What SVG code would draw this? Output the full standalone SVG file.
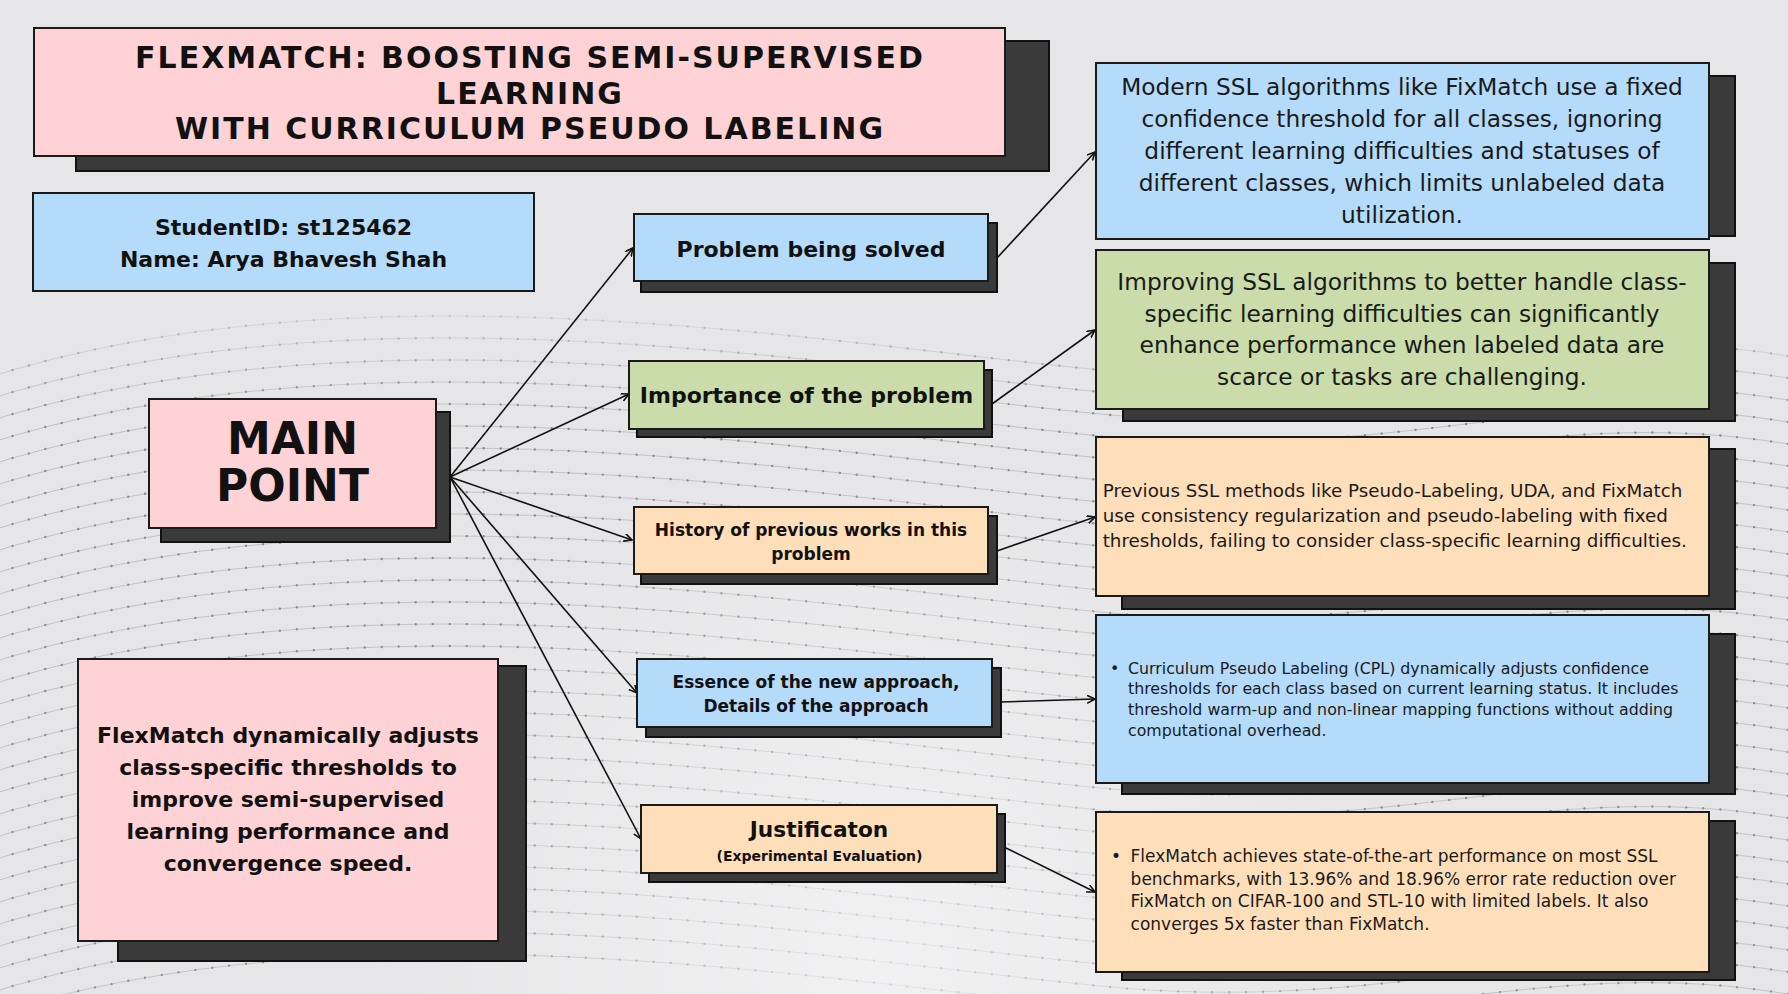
<svg xmlns="http://www.w3.org/2000/svg" width="1788" height="994" viewBox="0 0 1788 994">
<defs>
<style>
.box{stroke:#1a1a1a;stroke-width:2}
.shadow{fill:#3a3a3a;stroke:#111;stroke-width:2}
.pink{fill:#ffd3d5}
.blue{fill:#b4dbfa}
.green{fill:#c9dca9}
.peach{fill:#ffdfb9}
.b{font-family:"DejaVu Sans","Liberation Sans",sans-serif;font-weight:bold;fill:#111}
.r{font-family:"DejaVu Sans","Liberation Sans",sans-serif;fill:#1a1a1a}
.c{text-anchor:middle}
.t{font-size:30px;letter-spacing:2px}
.conn{stroke:#111;stroke-width:1.6;fill:none;marker-end:url(#arr)}
.md{fill:none;stroke:#858587;stroke-width:2.4;stroke-linecap:round;stroke-dasharray:0 17}
.ml{fill:none;stroke:#bfbfc2;stroke-width:1}
</style>
<marker id="arr" markerUnits="userSpaceOnUse" markerWidth="10" markerHeight="10" refX="8" refY="4" orient="auto"><path d="M0,0 L8,4 L0,8" fill="none" stroke="#111" stroke-width="1.6"/></marker>
<path id="wl" d="M-20,0 C 350,-120 800,-40 1100,-10 S 1550,-70 1810,-20"/>
<linearGradient id="fadeG" x1="0" y1="0" x2="0" y2="994" gradientUnits="userSpaceOnUse">
<stop offset="0.26" stop-color="#fff" stop-opacity="0"/>
<stop offset="0.42" stop-color="#fff" stop-opacity="0.95"/>
<stop offset="1" stop-color="#fff" stop-opacity="0.85"/>
</linearGradient>
<mask id="fadeM"><rect x="0" y="0" width="1788" height="994" fill="url(#fadeG)"/></mask>
<radialGradient id="glow" cx="880" cy="960" r="520" gradientUnits="userSpaceOnUse">
<stop offset="0" stop-color="#f6f6f7" stop-opacity="0.7"/>
<stop offset="1" stop-color="#f6f6f7" stop-opacity="0"/>
</radialGradient>
</defs>

<g id="background">
<rect x="0" y="0" width="1788" height="994" fill="#e6e6e8"/>
<g mask="url(#fadeM)">
<g class="ml">
<use href="#wl" y="380"/><use href="#wl" y="402"/><use href="#wl" y="424"/><use href="#wl" y="446"/><use href="#wl" y="468"/><use href="#wl" y="490"/><use href="#wl" y="512"/><use href="#wl" y="534"/><use href="#wl" y="556"/><use href="#wl" y="578"/><use href="#wl" y="600"/><use href="#wl" y="622"/><use href="#wl" y="644"/><use href="#wl" y="666"/><use href="#wl" y="688"/><use href="#wl" y="710"/><use href="#wl" y="732"/><use href="#wl" y="754"/><use href="#wl" y="776"/><use href="#wl" y="798"/><use href="#wl" y="820"/><use href="#wl" y="842"/><use href="#wl" y="864"/><use href="#wl" y="886"/><use href="#wl" y="908"/><use href="#wl" y="930"/><use href="#wl" y="952"/><use href="#wl" y="974"/><use href="#wl" y="996"/><use href="#wl" y="1018"/>
</g>
<g class="md">
<use href="#wl" y="380"/><use href="#wl" y="402"/><use href="#wl" y="424"/><use href="#wl" y="446"/><use href="#wl" y="468"/><use href="#wl" y="490"/><use href="#wl" y="512"/><use href="#wl" y="534"/><use href="#wl" y="556"/><use href="#wl" y="578"/><use href="#wl" y="600"/><use href="#wl" y="622"/><use href="#wl" y="644"/><use href="#wl" y="666"/><use href="#wl" y="688"/><use href="#wl" y="710"/><use href="#wl" y="732"/><use href="#wl" y="754"/><use href="#wl" y="776"/><use href="#wl" y="798"/><use href="#wl" y="820"/><use href="#wl" y="842"/><use href="#wl" y="864"/><use href="#wl" y="886"/><use href="#wl" y="908"/><use href="#wl" y="930"/><use href="#wl" y="952"/><use href="#wl" y="974"/><use href="#wl" y="996"/><use href="#wl" y="1018"/>
</g>
</g>
<rect x="0" y="400" width="1788" height="594" fill="url(#glow)"/>
</g>

<g id="connectors">
<line class="conn" x1="450" y1="477" x2="633" y2="248"/>
<line class="conn" x1="450" y1="477" x2="629" y2="394"/>
<line class="conn" x1="450" y1="477" x2="632" y2="540"/>
<line class="conn" x1="450" y1="477" x2="637" y2="693"/>
<line class="conn" x1="450" y1="477" x2="641" y2="839"/>
<line class="conn" x1="997" y1="258" x2="1095" y2="152"/>
<line class="conn" x1="992" y1="404" x2="1095" y2="330"/>
<line class="conn" x1="997" y1="551" x2="1095" y2="517"/>
<line class="conn" x1="1000" y1="702" x2="1095" y2="699"/>
<line class="conn" x1="1006" y1="848" x2="1095" y2="892"/>
</g>

<g id="title">
<rect class="shadow" x="76" y="41" width="973" height="130"/>
<rect class="box pink" x="34" y="28" width="971" height="128"/>
<text class="b c t" x="530" y="68">FLEXMATCH: BOOSTING SEMI-SUPERVISED</text>
<text class="b c t" x="530" y="103.5">LEARNING</text>
<text class="b c t" x="530" y="139">WITH CURRICULUM PSEUDO LABELING</text>
</g>

<g id="student">
<rect class="box blue" x="33" y="193" width="501" height="98"/>
<text class="b c" font-size="22" x="283.5" y="235">StudentID: st125462</text>
<text class="b c" font-size="22" x="283.5" y="266.7">Name: Arya Bhavesh Shah</text>
</g>

<g id="main-point">
<rect class="shadow" x="161" y="412" width="289" height="130"/>
<rect class="box pink" x="149" y="399" width="287" height="129"/>
<text class="b c" font-size="44" x="292.5" y="454">MAIN</text>
<text class="b c" font-size="44" x="292.5" y="500.7">POINT</text>
</g>

<g id="summary">
<rect class="shadow" x="118" y="666" width="408" height="295"/>
<rect class="box pink" x="78" y="659" width="420" height="282"/>
<text class="b c" font-size="22" x="288" y="742.7">FlexMatch dynamically adjusts</text>
<text class="b c" font-size="22" x="288" y="775">class-specific thresholds to</text>
<text class="b c" font-size="22" x="288" y="806.7">improve semi-supervised</text>
<text class="b c" font-size="22" x="288" y="839">learning performance and</text>
<text class="b c" font-size="22" x="288" y="871">convergence speed.</text>
</g>

<g id="problem">
<rect class="shadow" x="641" y="223" width="356" height="69"/>
<rect class="box blue" x="634" y="214" width="354" height="67"/>
<text class="b c" font-size="22" x="811" y="256.7">Problem being solved</text>
</g>

<g id="importance">
<rect class="shadow" x="637" y="370" width="355" height="67"/>
<rect class="box green" x="629" y="361" width="355" height="68"/>
<text class="b c" font-size="22" x="806.5" y="403.3">Importance of the problem</text>
</g>

<g id="history">
<rect class="shadow" x="641" y="516" width="356" height="68"/>
<rect class="box peach" x="634" y="507" width="354" height="67"/>
<text class="b c" font-size="17" x="811" y="535.7">History of previous works in this</text>
<text class="b c" font-size="17" x="811" y="560">problem</text>
</g>

<g id="essence">
<rect class="shadow" x="646" y="668" width="355" height="69"/>
<rect class="box blue" x="637" y="659" width="355" height="68"/>
<text class="b c" font-size="17" x="816" y="687.7">Essence of the new approach,</text>
<text class="b c" font-size="17" x="816" y="711.7">Details of the approach</text>
</g>

<g id="justification">
<rect class="shadow" x="649" y="814" width="356" height="68"/>
<rect class="box peach" x="641" y="805" width="356" height="68"/>
<text class="b c" font-size="21.7" x="819" y="836.7">Justificaton</text>
<text class="b c" font-size="14" x="819.5" y="860.7">(Experimental Evaluation)</text>
</g>

<g id="problem-detail">
<rect class="shadow" x="1123" y="76" width="612" height="160"/>
<rect class="box blue" x="1096" y="63" width="613" height="176"/>
<text class="r c" font-size="23.3" x="1402" y="95">Modern SSL algorithms like FixMatch use a fixed</text>
<text class="r c" font-size="23.3" x="1402" y="127.3">confidence threshold for all classes, ignoring</text>
<text class="r c" font-size="23.3" x="1402" y="159">different learning difficulties and statuses of</text>
<text class="r c" font-size="23.3" x="1402" y="191">different classes, which limits unlabeled data</text>
<text class="r c" font-size="23.3" x="1402" y="222.7">utilization.</text>
</g>

<g id="importance-detail">
<rect class="shadow" x="1123" y="263" width="612" height="158"/>
<rect class="box green" x="1096" y="250" width="613" height="159"/>
<text class="r c" font-size="23.3" x="1402" y="290">Improving SSL algorithms to better handle class-</text>
<text class="r c" font-size="23.3" x="1402" y="321.7">specific learning difficulties can significantly</text>
<text class="r c" font-size="23.3" x="1402" y="353.3">enhance performance when labeled data are</text>
<text class="r c" font-size="23.3" x="1402" y="385">scarce or tasks are challenging.</text>
</g>

<g id="history-detail">
<rect class="shadow" x="1122" y="449" width="613" height="160"/>
<rect class="box peach" x="1096" y="437" width="613" height="159"/>
<text class="r" font-size="18.3" x="1102.7" y="497.3">Previous SSL methods like Pseudo-Labeling, UDA, and FixMatch</text>
<text class="r" font-size="18.3" x="1102.7" y="522.3">use consistency regularization and pseudo-labeling with fixed</text>
<text class="r" font-size="18.3" x="1102.7" y="547.3">thresholds, failing to consider class-specific learning difficulties.</text>
</g>

<g id="essence-detail">
<rect class="shadow" x="1122" y="634" width="613" height="160"/>
<rect class="box blue" x="1096" y="615" width="613" height="168"/>
<text class="r" font-size="15.8" x="1110" y="673.5">•</text>
<text class="r" font-size="15.8" x="1128" y="673.5">Curriculum Pseudo Labeling (CPL) dynamically adjusts confidence</text>
<text class="r" font-size="15.8" x="1128" y="694.3">thresholds for each class based on current learning status. It includes</text>
<text class="r" font-size="15.8" x="1128" y="715.1">threshold warm-up and non-linear mapping functions without adding</text>
<text class="r" font-size="15.8" x="1128" y="735.9">computational overhead.</text>
</g>

<g id="justification-detail">
<rect class="shadow" x="1122" y="821" width="613" height="159"/>
<rect class="box peach" x="1096" y="812" width="613" height="160"/>
<text class="r" font-size="17" x="1111" y="861.7">•</text>
<text class="r" font-size="17" x="1130.6" y="861.7">FlexMatch achieves state-of-the-art performance on most SSL</text>
<text class="r" font-size="17" x="1130.6" y="884.5">benchmarks, with 13.96% and 18.96% error rate reduction over</text>
<text class="r" font-size="17" x="1130.6" y="907.3">FixMatch on CIFAR-100 and STL-10 with limited labels. It also</text>
<text class="r" font-size="17" x="1130.6" y="930.1">converges 5x faster than FixMatch.</text>
</g>
</svg>
